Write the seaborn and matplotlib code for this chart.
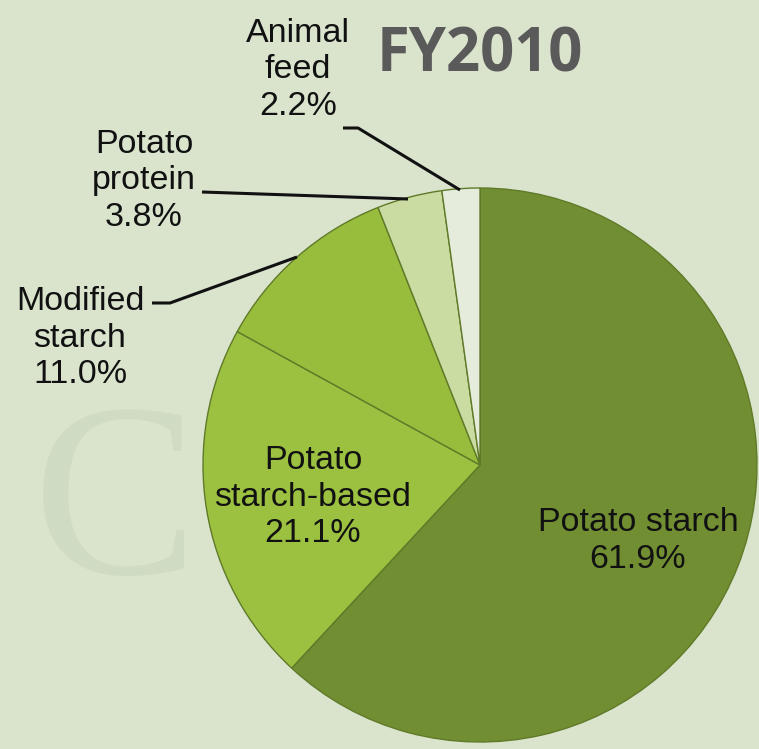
import matplotlib
matplotlib.use("Agg")
import matplotlib.pyplot as plt
import seaborn as sns

# ---- data ----
categories = ["Potato starch", "Potato starch-based", "Modified starch", "Potato protein", "Animal feed"]
shares = [61.9, 21.1, 11.0, 3.8, 2.2]
label_texts = ["Potato starch\n61.9%", "Potato\nstarch-based\n21.1%", "Modified\nstarch\n11.0%",
               "Potato\nprotein\n3.8%", "Animal\nfeed\n2.2%"]
title_text = "FY2010"

# ---- style ----
sns.set_theme(style="white")
BG = "#dae4cd"
colors = ["#728e33", "#9cc140", "#98bd3d", "#cbdca2", "#e5ecdb"]
plt.rcParams["font.family"] = ["Liberation Sans Narrow", "Liberation Sans", "DejaVu Sans"]

W, H = 759, 749
CX, CY, R = 480, 465, 277  # pixel geometry of pie

def px(x, y):
    return ((x - CX) / R, (CY - y) / R)

fig = plt.figure(figsize=(W / 100, H / 100), dpi=100, facecolor=BG)
ax = fig.add_axes([0, 0, 1, 1])
ax.set_facecolor(BG)

# faint watermark
wx, wy = px(115, 514)
ax.text(wx, wy, "C", family=["Liberation Serif", "DejaVu Serif"], fontsize=178,
        color="#d0dbc3", ha="center", va="center", zorder=0)

wedges, _ = ax.pie(shares, colors=colors, startangle=90, counterclock=False,
                   radius=1.0, center=(0, 0),
                   wedgeprops=dict(edgecolor="#5f7a28", linewidth=1.0))
for w in wedges:
    w.set_zorder(2)

# labels
label_px = [(638, 541), (313, 497), (80, 338), (144, 181), (298, 70)]
for t, (lx, ly) in zip(label_texts, label_px):
    x, y = px(lx, ly)
    ax.text(x, y, t, ha="center", va="center", fontsize=24.5, color="#111111",
            linespacing=1.24, zorder=5)

# leader lines
leaders = [
    [(152, 303), (170, 303), (297, 257)],
    [(202, 192), (408, 199)],
    [(343, 128), (358, 128), (460, 190)],
]
for pts in leaders:
    xs, ys = zip(*[px(a, b) for a, b in pts])
    ax.plot(xs, ys, color="#111111", lw=2.2, zorder=4, solid_capstyle="butt")

tx, ty = px(480, 56)
ax.text(tx, ty, title_text, ha="center", va="center", fontsize=43, fontweight="bold",
        family=["Open Sans", "DejaVu Sans"], color="#5a5a5a", zorder=5)

ax.set_xlim(-CX / R, (W - CX) / R)
ax.set_ylim(-(H - CY) / R, CY / R)
ax.set_aspect("auto")
ax.axis("off")

fig.savefig("out.png", dpi=100, facecolor=BG)
